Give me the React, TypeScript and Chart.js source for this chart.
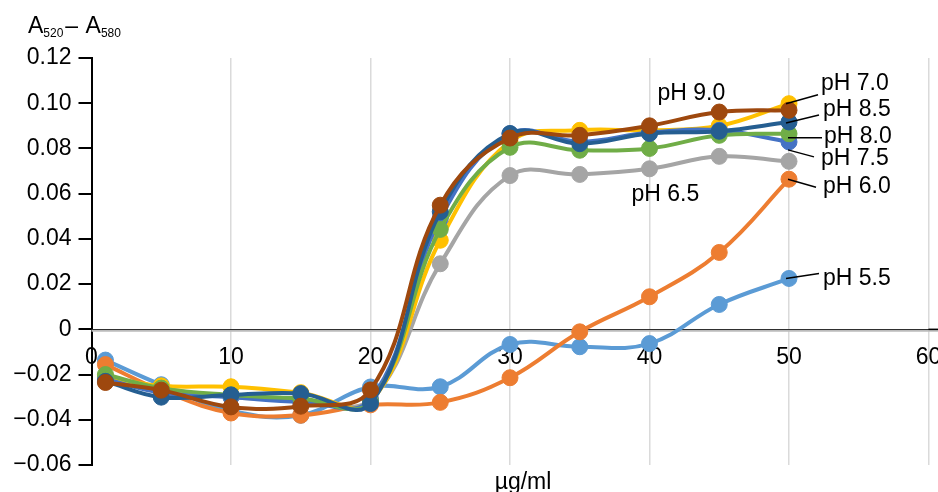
import React, { useEffect, useRef } from "react";
import { Chart, registerables } from "chart.js";

Chart.register(...registerables);

// ---- data ----
const xValues = [1, 5, 10, 15, 20, 25, 30, 35, 40, 45, 50];
const pH55 = [-0.0136, -0.0245, -0.036, -0.038, -0.0255, -0.0254, -0.0067, -0.0077, -0.0063, 0.011, 0.0225];
const pH60 = [-0.0156, -0.027, -0.037, -0.038, -0.0334, -0.0323, -0.0214, -0.0011, 0.0144, 0.034, 0.0664];
const pH65 = [-0.021, -0.026, -0.03, -0.031, -0.031, 0.029, 0.068, 0.0685, 0.071, 0.0765, 0.0743];
const pH70 = [-0.021, -0.025, -0.0254, -0.028, -0.032, 0.0394, 0.083, 0.088, 0.088, 0.09, 0.0998];
const pH75 = [-0.022, -0.028, -0.03, -0.032, -0.031, 0.049, 0.0865, 0.083, 0.087, 0.088, 0.0829];
const pH80 = [-0.02, -0.026, -0.029, -0.0306, -0.032, 0.0442, 0.0805, 0.0792, 0.08, 0.0858, 0.0865];
const pH85 = [-0.023, -0.03, -0.029, -0.0284, -0.0328, 0.052, 0.0866, 0.0821, 0.0866, 0.0876, 0.0917];
const pH90 = [-0.0235, -0.0269, -0.0343, -0.034, -0.0268, 0.0549, 0.0846, 0.0858, 0.09, 0.0961, 0.0969];

const seriesNames = ["pH 5.5", "pH 6.0", "pH 6.5", "pH 7.0", "pH 7.5", "pH 8.0", "pH 8.5", "pH 9.0"];
const seriesValues = [pH55, pH60, pH65, pH70, pH75, pH80, pH85, pH90];
const seriesColors = ["#5B9BD5", "#ED7D31", "#A5A5A5", "#FFC000", "#4472C4", "#70AD47", "#255E91", "#9E480E"];

const yMin = -0.06;
const yMax = 0.12;
const yStep = 0.02;
const xMin = 0;
const xMax = 60;
const xStep = 10;

const yTitleMain = "A";
const yTitleSub1 = "520";
const yTitleSub2 = "580";
const xTitle = "µg/ml";

// label annotations: series index, point index, text offset, leader [sx, sy, ex, ey]
const labelDefs = [
  { series: 3, index: 10, dx: 32, dy: -20, lead: [-3, 0, 29, -9] },
  { series: 6, index: 10, dx: 34, dy: -12, lead: [-3, 1, 30, -7] },
  { series: 5, index: 10, dx: 35, dy: 3, lead: [-1, 4, 33, 4] },
  { series: 4, index: 10, dx: 32, dy: 17, lead: [-1, 8, 25, 15] },
  { series: 1, index: 10, dx: 34, dy: 7, lead: [-1, 0, 27, 8] },
  { series: 0, index: 10, dx: 34, dy: 0, lead: [-3, 0, 30, -5] },
  { series: 7, index: 8, dx: 8, dy: -32, lead: null },
  { series: 2, index: 8, dx: -18, dy: 26, lead: null },
];

const FONT = '"Liberation Sans", Arial, sans-serif';

const annotationPlugin = {
  id: "annotations",
  beforeDatasetsDraw(chart: any) {
    const ctx = chart.ctx;
    const y0 = chart.scales.y.getPixelForValue(0);
    ctx.save();
    ctx.strokeStyle = "#bbb";
    ctx.lineWidth = 2;
    ctx.beginPath();
    ctx.moveTo(chart.chartArea.left, y0 + 1.5);
    ctx.lineTo(chart.width, y0 + 1.5);
    ctx.stroke();
    ctx.strokeStyle = "#000";
    ctx.lineWidth = 1.5;
    ctx.beginPath();
    ctx.moveTo(chart.chartArea.right, y0);
    ctx.lineTo(chart.width, y0);
    ctx.stroke();
    ctx.restore();
  },
  afterDatasetsDraw(chart: any) {
    const ctx = chart.ctx;
    ctx.save();
    ctx.fillStyle = "#000";
    ctx.strokeStyle = "#000";
    ctx.lineWidth = 1.5;
    ctx.font = `23px ${FONT}`;
    ctx.textAlign = "left";
    ctx.textBaseline = "middle";
    for (const d of labelDefs) {
      const el = chart.getDatasetMeta(d.series).data[d.index];
      if (!el) continue;
      const px = el.x;
      const py = el.y;
      if (d.lead) {
        ctx.beginPath();
        ctx.moveTo(px + d.lead[0], py + d.lead[1]);
        ctx.lineTo(px + d.lead[2], py + d.lead[3]);
        ctx.stroke();
      }
      ctx.fillText(seriesNames[d.series], px + d.dx, py + d.dy);
    }
    ctx.restore();
  },
  afterDraw(chart: any) {
    const ctx = chart.ctx;
    ctx.save();
    ctx.fillStyle = "#000";
    ctx.textAlign = "left";
    ctx.textBaseline = "alphabetic";
    let x = 28;
    const big = `23px ${FONT}`;
    const small = `12px ${FONT}`;
    ctx.font = big;
    ctx.fillText(yTitleMain, x, 33);
    x += ctx.measureText(yTitleMain).width;
    ctx.font = small;
    ctx.fillText(yTitleSub1, x, 37);
    x += ctx.measureText(yTitleSub1).width + 2;
    ctx.font = big;
    ctx.fillText("–", x, 33);
    x += ctx.measureText("– ").width + 1;
    ctx.fillText(yTitleMain, x, 33);
    x += ctx.measureText(yTitleMain).width;
    ctx.font = small;
    ctx.fillText(yTitleSub2, x, 37);

    ctx.font = big;
    ctx.textAlign = "center";
    const cx = (chart.chartArea.left + chart.chartArea.right) / 2 + 13;
    ctx.fillText(xTitle, cx, 489);
    ctx.restore();
  },
};

function fmtY(v: number) {
  if (Math.abs(v) < 1e-9) return "0";
  return (v < 0 ? "\u2212" : "") + Math.abs(v).toFixed(2);
}

export default function App() {
  const ref = useRef<HTMLCanvasElement | null>(null);
  useEffect(() => {
    if (!ref.current) return;
    const datasets = seriesValues.map((vals, i) => ({
      label: seriesNames[i],
      data: xValues.map((x, j) => ({ x, y: vals[j] })),
      borderColor: seriesColors[i],
      backgroundColor: seriesColors[i],
      pointBackgroundColor: seriesColors[i],
      pointBorderColor: seriesColors[i],
      pointBorderWidth: 1,
      pointRadius: 8,
      borderWidth: 4,
      tension: 0.4,
      fill: false,
      order: seriesValues.length - 1 - i,
    }));
    const chart = new Chart(ref.current, {
      type: "line",
      data: { datasets },
      plugins: [annotationPlugin],
      options: {
        animation: false,
        responsive: false,
        layout: { padding: { top: 58, right: 9.5, bottom: 27, left: 0 } },
        plugins: { legend: { display: false }, tooltip: { enabled: false }, title: { display: false } },
        scales: {
          x: {
            type: "linear",
            min: xMin,
            max: xMax,
            position: { y: 0 } as any,
            afterFit: (s: any) => {
              s.paddingLeft = 0;
              s.paddingRight = 0;
              s.paddingBottom = 0;
              s.paddingTop = 0;
            },
            ticks: {
              stepSize: xStep,
              padding: 15,
              color: "#000",
              font: { family: FONT, size: 23 },
              maxRotation: 0,
            },
            grid: { color: "#dadada", lineWidth: 1.5, drawTicks: false },
            border: { display: true, color: "#000", width: 1.5 },
          },
          y: {
            type: "linear",
            min: yMin,
            max: yMax,
            afterFit: (s: any) => {
              s.width = 91.5;
            },
            ticks: {
              stepSize: yStep,
              padding: 7,
              color: "#000",
              font: { family: FONT, size: 23 },
              callback: (v: any) => fmtY(Number(v)),
            },
            grid: { drawOnChartArea: false, drawTicks: true, tickLength: 13, color: "#000", lineWidth: 2 },
            border: { display: true, color: "#000", width: 2 },
          },
        },
      },
    });
    return () => chart.destroy();
  }, []);
  return (
    <div style={{ position: "fixed", left: 0, top: 0, width: 938, height: 492, background: "#fff" }}>
      <canvas ref={ref} width={938} height={492} style={{ display: "block" }} />
    </div>
  );
}
